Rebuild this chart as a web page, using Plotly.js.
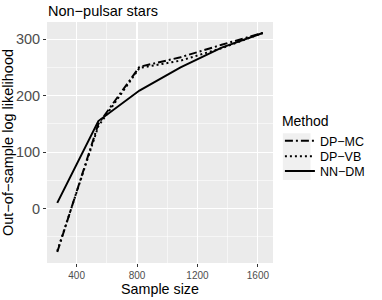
<!DOCTYPE html>
<html>
<head>
<meta charset="utf-8">
<script src="https://cdn.plot.ly/plotly-3.0.1.min.js"></script>
<style>html,body{margin:0;padding:0;background:#fff;}#chart{width:382px;height:300px;}</style>
</head>
<body>
<div id="chart"></div>
<script>
const sampleSize = [272, 544, 816, 1088, 1360, 1632];
const dpMC = [-77, 150, 251, 268, 290, 311];
const dpVB = [-75, 146, 249, 262, 284, 311];
const nnDM = [10, 155, 209, 250, 285, 311];
const methods = ['DP\u2212MC', 'DP\u2212VB', 'NN\u2212DM'];
const xTicks = [400, 800, 1200, 1600];
const yTicks = [0, 100, 200, 300];

const FONT = 'Liberation Sans, Arial, sans-serif';
const PL = 47, PR = 276, PT = 22, PB = 263;
const px = v => (v - PL) / (PR - PL);
const py = v => (PB - v) / (PB - PT);

const traces = [
  {x: sampleSize, y: dpMC, name: methods[0], legend: 'legend', mode: 'lines', line: {color: '#000', width: 2, dash: '8px,3px,2px,3px'}},
  {x: sampleSize, y: dpVB, name: methods[1], legend: 'legend2', mode: 'lines', line: {color: '#000', width: 2, dash: '2px,3px'}},
  {x: sampleSize, y: nnDM, name: methods[2], legend: 'legend3', mode: 'lines', line: {color: '#000', width: 2}}
];

const legBase = {
  xanchor: 'left', bgcolor: 'rgba(0,0,0,0)', borderwidth: 0,
  font: {size: 12.5, color: '#000', family: FONT}, itemwidth: 30
};

const layout = {
  width: 382, height: 300,
  margin: {l: 47, r: 106, t: 22, b: 37},
  paper_bgcolor: '#fff',
  plot_bgcolor: '#EBEBEB',
  font: {family: FONT, color: '#000'},
  title: {text: 'Non\u2212pulsar stars', x: 48/382, xanchor: 'left', xref: 'container', y: 0.962, yanchor: 'middle', yref: 'container', font: {size: 14.5, color: '#000'}},
  xaxis: {
    range: [204, 1700], tickvals: xTicks, ticktext: xTicks.map(String),
    showgrid: true, gridcolor: '#fff', gridwidth: 1.1,
    minor: {tickvals: [600, 1000, 1400], showgrid: true, gridcolor: '#fff', gridwidth: 0.55, ticks: ''},
    ticks: 'outside', ticklen: 3, tickcolor: '#333', tickwidth: 1,
    tickfont: {size: 10, color: '#4D4D4D'},
    zeroline: false, showline: false,
    title: {text: 'Sample size', font: {size: 14.3, color: '#000'}, standoff: 2}
  },
  yaxis: {
    range: [-96.4, 330.4], tickvals: yTicks, ticktext: yTicks.map(String),
    showgrid: true, gridcolor: '#fff', gridwidth: 1.1,
    minor: {tickvals: [-50, 50, 150, 250], showgrid: true, gridcolor: '#fff', gridwidth: 0.55, ticks: ''},
    ticks: 'outside', ticklen: 3, tickcolor: '#333', tickwidth: 1,
    tickfont: {size: 14.5, color: '#4D4D4D'},
    zeroline: false, showline: false,
    title: {text: 'Out\u2212of\u2212sample log likelihood', font: {size: 14.5, color: '#000'}, standoff: 3}
  },
  legend: Object.assign({}, legBase, {x: px(283), y: py(108), yanchor: 'top',
    title: {text: 'Method', font: {size: 14, color: '#000', family: FONT}}}),
  legend2: Object.assign({}, legBase, {x: px(283), y: py(156.7), yanchor: 'middle'}),
  legend3: Object.assign({}, legBase, {x: px(283), y: py(171.3), yanchor: 'middle'}),
  shapes: [
    {type: 'rect', xref: 'paper', yref: 'paper', x0: px(286), x1: px(314), y0: py(180), y1: py(133.3), fillcolor: '#F0F0F0', line: {width: 0}, layer: 'below'}
  ],
  showlegend: true
};

Plotly.newPlot('chart', traces, layout, {staticPlot: true, displayModeBar: false});
</script>
</body>
</html>
